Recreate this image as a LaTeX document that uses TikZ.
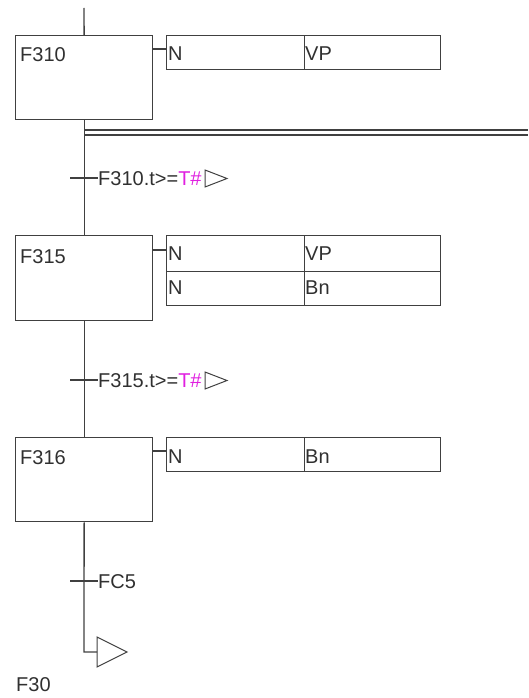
\documentclass[tikz,border=0pt]{standalone}
\usepackage{fontspec}
\setmainfont{Liberation Sans}
\definecolor{ln}{HTML}{404040}
\definecolor{tx}{HTML}{303030}
\definecolor{mg}{HTML}{E020E0}
\tikzset{
  stepbox/.style={draw=ln, line width=1.3pt, fill=white, anchor=north west, minimum width=137pt, minimum height=84pt, inner sep=0pt},
  cellbox/.style={draw=ln, line width=1.3pt, anchor=north west, minimum height=34pt, inner sep=0pt},
  qual/.style={cellbox, minimum width=138pt},
  act/.style={cellbox, minimum width=136pt},
  txt/.style={anchor=base west, inner sep=0pt, text=tx, font=\fontsize{20}{24}\selectfont},
  link/.style={draw=ln, line width=1.3pt},
  tri/.style={draw=ln, line width=1pt}
}
\begin{document}
\begin{tikzpicture}[x=1pt,y=-1pt]
\useasboundingbox (0,0) rectangle (528,698);
% steps
\node[stepbox] (s1) at (15,35) {};
\node[stepbox, minimum height=85pt] (s2) at (15,235) {};
\node[stepbox] (s3) at (15,437) {};
\node[txt] (s1l) at (20,62) {F310};
\node[txt] (s2l) at (20,263) {F315};
\node[txt] (s3l) at (20,464) {F316};
% action blocks
\node[qual] (a1q) at (166,35) {};
\node[act] (a1a) at (304,35) {};
\node[qual, minimum height=36pt] (a2q) at (166,235) {};
\node[act, minimum height=36pt] (a2a) at (304,235) {};
\node[qual] (a3q) at (166,271) {};
\node[act] (a3a) at (304,271) {};
\node[qual] (a4q) at (166,437) {};
\node[act] (a4a) at (304,437) {};
\node[txt] at (168,61) {N};
\node[txt] at (305,61) {VP};
\node[txt] at (168,260) {N};
\node[txt] at (305,260) {VP};
\node[txt] at (168,294) {N};
\node[txt] at (305,294) {Bn};
\node[txt] at (168,463) {N};
\node[txt] at (305,463) {Bn};
% step-to-action connectors
\draw[link] (s1.east |- 0,49) -- (a1q.west |- 0,49);
\draw[link] (s2.east |- 0,250) -- (a2q.west |- 0,250);
\draw[link] (s3.east |- 0,451) -- (a4q.west |- 0,451);
% top incoming
\coordinate (top) at (84,8);
\draw[link] (top) -- (s1.north);
% simultaneous divergence double line
\coordinate (d1) at (84,130);
\coordinate (d2) at (528,130);
\coordinate (d3) at (84,135);
\coordinate (d4) at (528,135);
\draw[link] (d1) -- (d2);
\draw[link] (d3) -- (d4);
% links between steps
\draw[link] (s1.south) -- (s2.north);
\draw[link] (s2.south) -- (s3.north);
% transitions
\coordinate (t1) at (84,178);
\coordinate (t2) at (84,380);
\coordinate (t3) at (84,581);
\draw[link] ([xshift=-14pt]t1) -- ([xshift=14pt]t1);
\draw[link] ([xshift=-14pt]t2) -- ([xshift=14pt]t2);
\draw[link] ([xshift=-14pt]t3) -- ([xshift=14pt]t3);
\node[txt] (t1l) at (98,185) {F310.t>=\textcolor{mg}{T\#}};
\node[txt] (t2l) at (98,387) {F315.t>=\textcolor{mg}{T\#}};
\node[txt] (t3l) at (98,588) {FC5};
\draw[tri] (205,170) -- (205,187) -- (227,178.5) -- cycle;
\draw[tri] (205,372) -- (205,389) -- (227,380.5) -- cycle;
% jump to F30
\coordinate (j) at (84,652);
\coordinate (jt) at (97,652);
\draw[link] (s3.south) -- (j) -- (jt);
\draw[tri] (97,637) -- (97,667) -- (127,652) -- cycle;
\node[txt] (f30) at (16,691) {F30};
\end{tikzpicture}
\end{document}
